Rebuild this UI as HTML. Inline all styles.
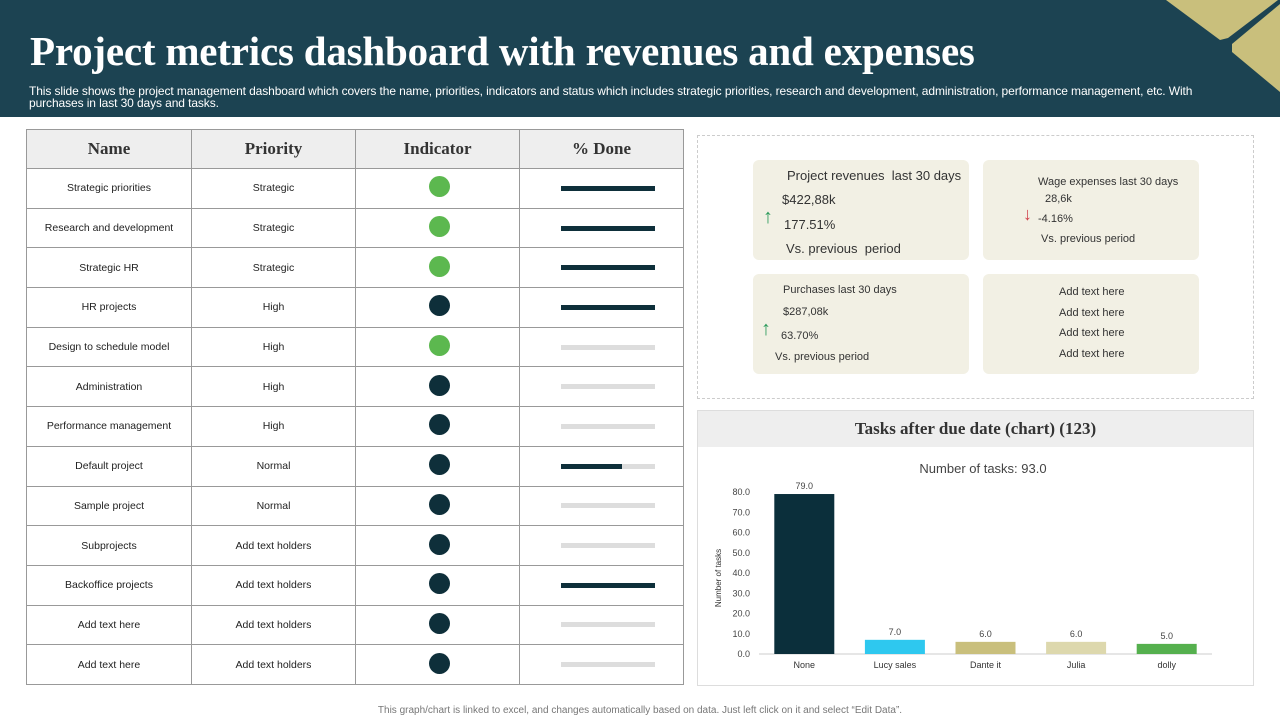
<!DOCTYPE html>
<html><head><meta charset="utf-8"><style>
*{margin:0;padding:0;box-sizing:border-box}
body{width:1280px;height:720px;background:#fff;font-family:"Liberation Sans",sans-serif;position:relative;overflow:hidden}
.hdr{position:absolute;left:0;top:0;width:1280px;height:117px;background:#1c4352}
h1{position:absolute;left:30px;top:27px;font-family:"Liberation Serif",serif;font-size:41px;color:#fff;font-weight:bold;letter-spacing:-0.2px;white-space:nowrap}
.sub{position:absolute;left:29px;top:85px;width:1195px;font-size:12px;color:#fff;line-height:12px;letter-spacing:-0.1px}
table{position:absolute;left:26px;top:129px;border-collapse:collapse;width:658px}
td,th{border:1px solid #999;text-align:center;font-size:10.5px;color:#222;height:39.7px}
th{background:#eee;font-family:"Liberation Serif",serif;font-size:17px;height:39px;font-weight:bold;color:#333}
.dot{display:inline-block;width:21px;height:21px;border-radius:50%;margin-left:4px}
.g{background:#5cb84f}.d{background:#0e2f3a}
.bar{width:94px;height:5px;background:#ddd;margin:0 auto;position:relative;left:6px}
.bar i{position:absolute;left:0;top:0;height:5px;background:#0e2f3a}
.panel{position:absolute;left:697px;top:135px;width:557px;height:264px;border:1px dashed #ccc}
.card{position:absolute;background:#f2f0e4;border-radius:6px;font-size:11px;color:#333}
.card div{position:absolute}
.up{color:#2a9a5a;font-size:20px;font-weight:bold}
.dn{color:#d0404a;font-size:18px;font-weight:bold}
.cp{position:absolute;left:697px;top:410px;width:557px;height:276px;border:1px solid #ddd}
.foot{position:absolute;top:705px;width:1280px;text-align:center;font-size:10px;color:#777}
</style></head><body>
<div class="hdr"></div>
<svg style="position:absolute;left:0;top:0" width="1280" height="117">
<polygon points="1166,0 1278,0 1228,38 1220,40" fill="#c9bf7c"/>
<polygon points="1280,4 1280,92 1232,52 1232,44" fill="#c9bf7c"/>
</svg>
<h1>Project metrics dashboard with revenues and expenses</h1>
<div class="sub">This slide shows the project management dashboard which covers the name, priorities, indicators and status which includes strategic priorities, research and development, administration, performance management, etc. With purchases in last 30 days and tasks.</div>
<table id="tbl">
<tr><th style="width:165px">Name</th><th style="width:164px">Priority</th><th style="width:164px">Indicator</th><th>% Done</th></tr>
</table>
<div class="panel">
<div class="card" style="left:55px;top:24px;width:216px;height:100px">
<div style="left:34px;top:8px;font-size:13px">Project revenues &nbsp;last 30 days</div>
<div style="left:29px;top:32px;font-size:13px">$422,88k</div>
<div class="up" style="left:10px;top:46px">↑</div>
<div style="left:31px;top:57px;font-size:13px">177.51%</div>
<div style="left:33px;top:81px;font-size:13px">Vs. previous &nbsp;period</div></div>
<div class="card" style="left:285px;top:24px;width:216px;height:100px">
<div style="left:55px;top:16px">Wage expenses last 30 days</div>
<div style="left:62px;top:33px">28,6k</div>
<div class="dn" style="left:40px;top:44px">↓</div>
<div style="left:55px;top:53px">-4.16%</div>
<div style="left:58px;top:73px">Vs. previous period</div></div>
<div class="card" style="left:55px;top:138px;width:216px;height:100px">
<div style="left:30px;top:10px">Purchases last 30 days</div>
<div style="left:30px;top:32px">$287,08k</div>
<div class="up" style="left:8px;top:44px">↑</div>
<div style="left:28px;top:56px">63.70%</div>
<div style="left:22px;top:77px">Vs. previous period</div></div>
<div class="card" style="left:285px;top:138px;width:216px;height:100px">
<div style="left:76px;top:12px">Add text here</div><div style="left:76px;top:33px">Add text here</div>
<div style="left:76px;top:53px">Add text here</div><div style="left:76px;top:74px">Add text here</div></div>
</div>
<div class="cp">
<div style="height:36px;background:#eee;text-align:center;font-family:'Liberation Serif',serif;font-size:17px;font-weight:bold;color:#333;line-height:36px">Tasks after due date (chart) (123)</div>
</div>
<svg id="ch" style="position:absolute;left:0;top:0" width="1280" height="720"></svg>
<div class="foot">This graph/chart is linked to excel, and changes automatically based on data. Just left click on it and select “Edit Data”.</div>
<script>
const names=["Strategic priorities","Research and development","Strategic HR","HR projects","Design to schedule model","Administration","Performance management","Default project","Sample project","Subprojects","Backoffice projects","Add text here","Add text here"];
const priorities=["Strategic","Strategic","Strategic","High","High","High","High","Normal","Normal","Add text holders","Add text holders","Add text holders","Add text holders"];
const indicators=["g","g","g","d","g","d","d","d","d","d","d","d","d"];
const done=[100,100,100,100,0,0,0,65,0,0,100,0,0];
const tbl=document.getElementById('tbl');
names.forEach((n,i)=>{const tr=document.createElement('tr');


tr.innerHTML=`<td>${n}</td><td>${priorities[i]}</td><td><span class="dot ${indicators[i]}"></span></td><td><div class="bar"><i style="width:${done[i]}%"></i></div></td>`;
tbl.appendChild(tr);});
const cats=["None","Lucy sales","Dante it","Julia","dolly"];
const vals=[79,7,6,6,5];
const colors=["#0b2f3b","#2ec8ef","#c9bf7c","#ddd8ad","#55b04e"];
const ticks=[0,10,20,30,40,50,60,70,80];
const total=93;
const svg=document.getElementById('ch');const NS="http://www.w3.org/2000/svg";
const y=v=>654-v*2.025, x0=759, step=90.6, bw=60;
function mk(t,a,txt){const e=document.createElementNS(NS,t);for(const k in a)e.setAttribute(k,a[k]);if(txt!=null)e.textContent=txt;svg.appendChild(e);return e;}
const tt=mk('text',{x:983,y:473,'text-anchor':'middle','font-size':13,fill:'#444','font-family':'Liberation Sans'},'Number of tasks: '+total.toFixed(1));


ticks.forEach(t=>{const e=mk('text',{x:750,y:y(t)+3,'text-anchor':'end','font-size':9,fill:'#444','font-family':'Liberation Sans'},t.toFixed(1));

});
const ax=mk('line',{x1:x0,x2:1212,y1:654,y2:654,stroke:'#ccc'});


const yt=mk('text',{transform:'translate(721,578) rotate(-90)','text-anchor':'middle','font-size':8,fill:'#333','font-family':'Liberation Sans'},'Number of tasks');


cats.forEach((c,i)=>{const cx=x0+step*(i+0.5);
const r=mk('rect',{x:cx-bw/2,y:y(vals[i]),width:bw,height:654-y(vals[i]),fill:colors[i]});


const l=mk('text',{x:cx,y:y(vals[i])-5,'text-anchor':'middle','font-size':9,fill:'#444','font-family':'Liberation Sans'},vals[i].toFixed(1));


const xl=mk('text',{x:cx,y:668,'text-anchor':'middle','font-size':9,fill:'#333','font-family':'Liberation Sans'},c);

});
</script>
</body></html>
